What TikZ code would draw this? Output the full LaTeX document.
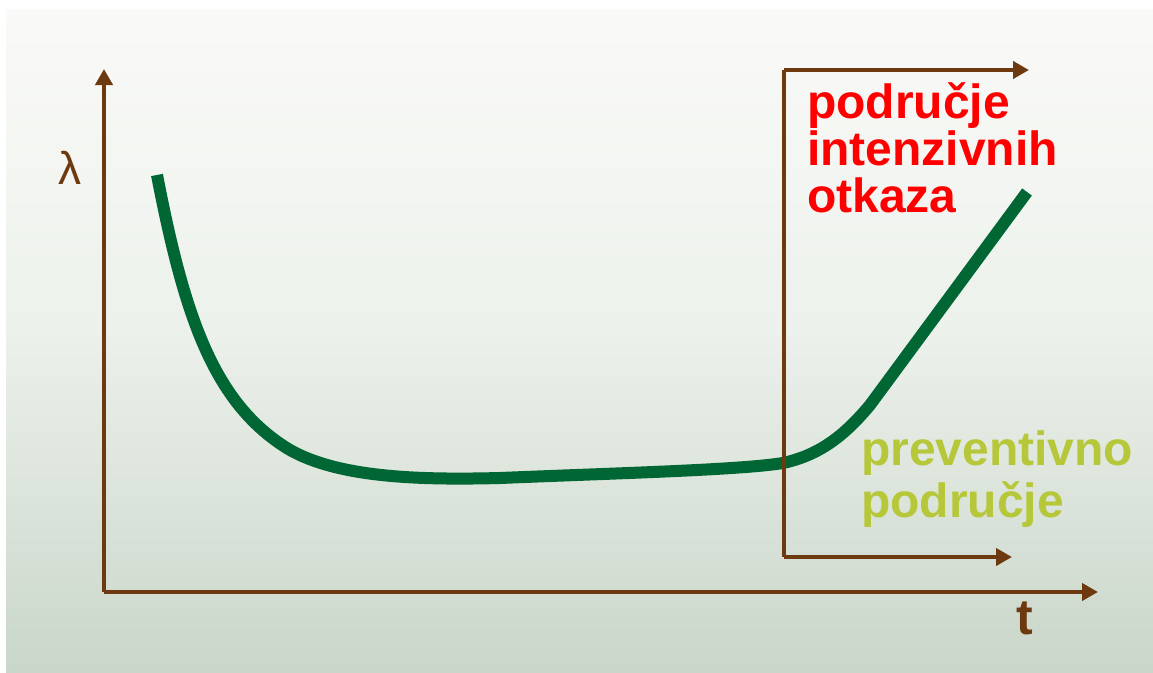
\documentclass[tikz,border=0pt]{standalone}
\usepackage{fontspec}
\setmainfont{Liberation Sans}
\usetikzlibrary{arrows.meta}
\definecolor{axisbrown}{RGB}{108,58,14}
\definecolor{curvegreen}{RGB}{0,102,51}
\definecolor{bgtop}{RGB}{250,250,248}
\definecolor{bgmid}{RGB}{236,241,235}
\definecolor{bgbot}{RGB}{202,214,202}
\definecolor{prevgreen}{RGB}{182,200,58}
\begin{document}
\begin{tikzpicture}[x=1pt,y=-1pt,
  axisline/.style={draw=axisbrown,line width=4.5pt,-{Triangle[length=16pt,width=17pt]}},
  boxline/.style={draw=axisbrown,line width=4.5pt,line join=miter},
  redlabel/.style={text=red,font=\fontsize{48}{47}\selectfont\bfseries,align=left,inner sep=0pt,anchor=base west},
  greenlabel/.style={text=prevgreen,font=\fontsize{48}{52}\selectfont\bfseries,align=left,inner sep=0pt,anchor=base west},
  axislabel/.style={text=axisbrown,inner sep=0pt}]
\useasboundingbox (0,0) rectangle (1153,672);
\fill[white] (0,0) rectangle (1153,672);
\shade[top color=bgtop,bottom color=bgmid] (6,9) rectangle (1153,330);
\shade[top color=bgmid,bottom color=bgbot] (6,330) rectangle (1153,672);
% axes
\coordinate (O) at (104,592);
\coordinate (ytip) at (104,69);
\coordinate (xtip) at (1098,592);
\draw[axisline] (O) -- (ytip);
\draw[axisline] (O) -- (xtip);
\node[axislabel,font=\fontsize{46}{46}\selectfont] (lam) at (70,168) {λ};
\node[axislabel,font=\fontsize{50}{50}\selectfont\bfseries] (t) at (1025,618) {t};
% curve
\draw[curvegreen,line width=12pt] (157,175)
  .. controls (185,320) and (215,405) .. (290,450)
  .. controls (340,478) and (420,480) .. (500,478)
  .. controls (620,473) and (740,470) .. (783,463)
  .. controls (820,455) and (845,435) .. (870,405)
  -- (1027,192);
% box lines
\coordinate (bt) at (784,70);
\coordinate (bb) at (784,557);
\coordinate (btip) at (1029,70);
\coordinate (bbtip) at (1012,557);
\draw[boxline] (bb) -- (bt);
\draw[axisline] (bt) -- (btip);
\draw[axisline] (bb) -- (bbtip);
% labels (anchored at the baseline of the last line)
\node[redlabel] (red) at (807,212) {područje\\intenzivnih\\otkaza};
\node[greenlabel] (prev) at (861,517) {preventivno\\područje};
\end{tikzpicture}
\end{document}
